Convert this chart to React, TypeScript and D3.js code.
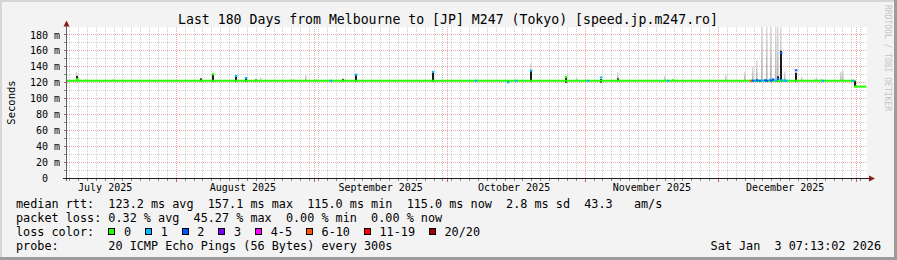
import React from "react";
import * as d3 from "d3";

const W = 897;
const H = 260;
const TITLE = "Last 180 Days from Melbourne to [JP] M247 (Tokyo) [speed.jp.m247.ro]";
const START = "2025-07-07 07:13:02";
const END = "2026-01-03 07:13:02";
const Y_MAX = 190;

const yTickValues = [0, 20, 40, 60, 80, 100, 120, 140, 160, 180];
const yTickLabels = ["0", "20 m", "40 m", "60 m", "80 m", "100 m", "120 m", "140 m", "160 m", "180 m"];

// median baseline segments (start time, median ms)
const medianStart = ["2025-07-07 07:13", "2025-12-31 18:00"];
const medianValue = [122.4, 115.0];

// notable samples: time, median (ms), loss colour index, dark smoke lo/hi, light smoke top (0 = none)
const evTime = [
  "2025-07-09 18:30", "2025-07-11 19:00", "2025-07-17 21:00", "2025-08-06 16:00", "2025-08-09 09:00",
  "2025-08-14 08:00", "2025-08-16 19:00", "2025-08-18 20:00", "2025-08-19 23:00", "2025-08-26 17:00",
  "2025-08-27 14:00", "2025-08-30 07:00", "2025-09-01 13:00", "2025-09-04 22:00", "2025-09-07 10:00",
  "2025-09-10 08:00", "2025-09-27 21:00", "2025-10-07 08:00", "2025-10-14 18:00", "2025-10-16 13:00",
  "2025-10-19 17:00", "2025-10-27 19:00", "2025-10-30 06:30", "2025-11-01 18:00", "2025-11-04 16:00",
  "2025-11-08 12:00", "2025-11-18 20:30", "2025-11-19 18:00", "2025-11-20 21:00", "2025-12-02 19:00",
  "2025-12-06 20:30", "2025-12-08 10:00", "2025-12-08 21:00", "2025-12-09 08:00", "2025-12-09 18:30",
  "2025-12-10 05:30", "2025-12-10 21:30", "2025-12-11 08:30", "2025-12-12 00:30", "2025-12-12 11:30",
  "2025-12-12 22:00", "2025-12-13 09:00", "2025-12-14 01:00", "2025-12-14 12:00", "2025-12-14 23:00",
  "2025-12-15 09:30", "2025-12-15 20:30", "2025-12-16 07:00", "2025-12-18 08:00", "2025-12-19 21:30",
  "2025-12-22 14:30", "2025-12-23 06:30", "2025-12-24 04:00", "2025-12-24 15:00", "2025-12-28 16:00",
  "2025-12-29 03:00", "2025-12-31 09:00", "2025-12-31 18:00",
];
const evMedian = [
  124.5, 124.0, 124.0, 122.4, 130.5,
  128.5, 126.0, 122.4, 122.4, 124.0,
  122.4, 122.4, 124.0, 122.4, 122.4,
  130.0, 133.5, 122.4, 120.5, 122.4,
  135.0, 127.0, 122.4, 122.4, 126.5,
  122.4, 122.4, 122.4, 124.7, 122.4,
  122.4, 122.4, 122.4, 122.4, 123.0,
  122.4, 122.4, 123.0, 122.4, 123.5,
  122.4, 124.0, 122.4, 125.0, 157.1,
  123.0, 122.4, 122.4, 135.5, 122.4,
  122.4, 122.4, 122.4, 122.4, 122.4,
  122.4, 122.4, 115.0,
];
const evLoss = [
  0, 0, 0, 0, 0,
  1, 1, 0, 0, 0,
  0, 0, 0, 1, 0,
  1, 1, 1, 1, 1,
  1, 0, 0, 1, 1,
  0, 0, 1, 0, 0,
  0, 5, 2, 1, 2,
  2, 1, 2, 2, 1,
  2, 2, 1, 2, 2,
  1, 1, 1, 2, 0,
  0, 0, 0, 1, 0,
  0, 1, 0,
];
const evDarkLo = [
  121.5, 0, 0, 121.0, 121.0,
  121.0, 121.0, 121.0, 0, 0,
  0, 0, 0, 0, 121.0,
  121.0, 121.0, 0, 119.5, 0,
  121.0, 119.8, 0, 0, 120.0,
  121.0, 0, 0, 0, 0,
  0, 0, 0, 0, 0,
  0, 0, 0, 0, 0,
  0, 0, 0, 121.0, 121.0,
  0, 0, 0, 121.0, 0,
  0, 0, 0, 0, 0,
  0, 0, 114.5,
];
const evDarkHi = [
  128.3, 0, 0, 125.4, 129.5,
  127.5, 125.5, 124.0, 0, 0,
  0, 0, 0, 0, 124.5,
  129.5, 132.5, 0, 123.0, 0,
  135.0, 126.0, 0, 0, 124.5,
  125.4, 0, 0, 0, 0,
  0, 0, 0, 0, 0,
  0, 0, 0, 0, 0,
  0, 0, 0, 128.0, 160.0,
  0, 0, 0, 132.5, 0,
  0, 0, 0, 0, 0,
  0, 0, 122.4,
];
const evLightHi = [
  133.4, 0, 0, 0, 0,
  0, 0, 0, 126.2, 0,
  125.0, 130.5, 0, 0, 126.0,
  0, 0, 0, 0, 0,
  144.3, 0, 126.7, 0, 0,
  133.4, 128.7, 0, 0, 129.6,
  133.8, 0, 140.0, 0, 148.5,
  0, 200, 0, 200, 0,
  200, 0, 200, 200, 200,
  0, 133.8, 0, 0, 127.5,
  125.0, 126.0, 125.0, 0, 133.8,
  137.0, 0, 0,
];

const lossLabels = ["0", "1", "2", "3", "4-5", "6-10", "11-19", "20/20"];
const lossColors = ["#26ff00", "#00b8ff", "#0059ff", "#7e00ff", "#ff00ff", "#ff5500", "#ff0000", "#a10000"];

const statRow1 = "median rtt:  123.2 ms avg  157.1 ms max  115.0 ms min  115.0 ms now  2.8 ms sd  43.3   am/s";
const statRow2 = "packet loss: 0.32 % avg  45.27 % max  0.00 % min  0.00 % now";
const lossTitle = "loss color:";
const probeRow = "probe:       20 ICMP Echo Pings (56 Bytes) every 300s";
const dateText = "Sat Jan  3 07:13:02 2026";
const yAxisTitle = "Seconds";
const watermark = "RRDTOOL / TOBI OETIKER";

const MONO = "'DejaVu Sans Mono', monospace";

export default function App() {
  const parseFull = d3.utcParse("%Y-%m-%d %H:%M:%S");
  const parse = d3.utcParse("%Y-%m-%d %H:%M");
  const t0 = parseFull(START) as Date;
  const t1 = parseFull(END) as Date;

  const x = d3.scaleUtc().domain([t0, t1]).range([66.5, 866.5]);
  const y = d3.scaleLinear().domain([0, Y_MAX]).range([178, 27]);

  const plotL = 67, plotR = 867, plotT = 27, plotB = 178;

  const minorY = d3.range(10, Y_MAX, 10).filter((v) => v % 20 !== 0);
  const majorY = yTickValues.filter((v) => v > 0);
  const months = d3.utcMonth.range(t0, t1);
  const days = d3.utcDay.range(t0, t1, 2).filter((d) => d.getUTCDate() !== 1);
  const labelMonths = d3.utcMonth.range(d3.utcMonth.floor(t0), t1)
    .map((m) => ({ m, c: new Date(m.getTime() + 15 * 86400000) }))
    .filter((o) => o.c >= t0 && o.c <= t1);
  const monthFmt = d3.utcFormat("%B %Y");

  const ev = evTime.map((t, i) => ({
    t: parse(t) as Date,
    med: evMedian[i],
    loss: evLoss[i],
    dLo: evDarkLo[i],
    dHi: evDarkHi[i],
    lHi: evLightHi[i],
  }));

  const segs = medianStart.map((s, i) => ({
    a: parse(s) as Date,
    b: i + 1 < medianStart.length ? (parse(medianStart[i + 1]) as Date) : t1,
    v: medianValue[i],
  }));
  const baseAt = (t: Date) => {
    const s = segs.find((g) => t >= g.a && t < g.b);
    return s ? s.v : medianValue[medianValue.length - 1];
  };

  const crisp = (v: number) => Math.round(v - 0.5) + 0.5;

  // legend positions
  let cursor = 124;
  const legendItems = lossLabels.map((lab, i) => {
    const tx = cursor;
    cursor += lab.length * 7.08 + 29.6;
    return { lab, color: lossColors[i], tx, bx: tx - 15.7 };
  });

  return (
    <svg
      width={W}
      height={H}
      style={{ position: "absolute", left: 0, top: 0, display: "block" }}
      fontFamily={MONO}
    >
      <defs>
        <clipPath id="plotClip">
          <rect x={plotL} y={plotT} width={plotR - plotL} height={plotB - plotT} />
        </clipPath>
        <linearGradient id="smokeGrad" x1="0" y1="1" x2="0" y2="0">
          <stop offset="0" stopColor="#a8a8a8" />
          <stop offset="1" stopColor="#dedede" />
        </linearGradient>
      </defs>
      {/* background + shading */}
      <rect x={0} y={0} width={W} height={H} fill="#f3f3f3" />
      <rect x={0} y={0} width={W} height={2} fill="#d6d6d6" />
      <rect x={0} y={0} width={2} height={H} fill="#d6d6d6" />
      <rect x={0} y={H - 3} width={W} height={3} fill="#9c9c9c" />
      <rect x={W - 3} y={0} width={3} height={H} fill="#9c9c9c" />

      {/* canvas */}
      <rect x={plotL} y={plotT} width={plotR - plotL} height={plotB - plotT} fill="#ffffff" />

      {/* grid */}
      <g shapeRendering="crispEdges">
        {minorY.map((v) => (
          <line key={"my" + v} x1={plotL} x2={plotR} y1={crisp(y(v))} y2={crisp(y(v))}
            stroke="#cfcfcf" strokeDasharray="1 1" />
        ))}
        {days.map((d) => (
          <line key={"dx" + d.getTime()} x1={crisp(x(d))} x2={crisp(x(d))} y1={plotT} y2={plotB}
            stroke="#cfcfcf" strokeDasharray="1 1" />
        ))}
        {majorY.map((v) => (
          <line key={"My" + v} x1={plotL} x2={plotR} y1={crisp(y(v))} y2={crisp(y(v))}
            stroke="#eba7a7" strokeDasharray="1 1" />
        ))}
        {months.map((m) => (
          <line key={"Mx" + m.getTime()} x1={crisp(x(m))} x2={crisp(x(m))} y1={plotT} y2={plotB}
            stroke="#eba7a7" strokeDasharray="1 1" />
        ))}
      </g>

      {/* data */}
      <g clipPath="url(#plotClip)">
        {ev.filter((e) => e.lHi > 0).map((e, i) => {
          const base = baseAt(e.t);
          const top = y(Math.min(e.lHi, Y_MAX + 5));
          return (
            <rect key={"l" + i} x={Math.round(x(e.t)) - 1} width={1.6} y={top}
              height={y(base) - top} fill="url(#smokeGrad)" opacity={0.9} />
          );
        })}
        {ev.filter((e) => e.dHi > 0).map((e, i) => (
          <rect key={"d" + i} x={Math.round(x(e.t)) - 1} width={2} y={y(e.dHi)}
            height={y(e.dLo) - y(e.dHi)} fill="#1c1c1c" />
        ))}
        {segs.map((s, i) => (
          <line key={"s" + i} x1={x(s.a)} x2={x(s.b)} y1={y(s.v)} y2={y(s.v)}
            stroke={lossColors[0]} strokeWidth={2} />
        ))}
        {ev.map((e, i) => {
          const base = baseAt(e.t);
          const xc = Math.round(x(e.t));
          const col = lossColors[e.loss];
          const hasDark = e.dHi > 0;
          return (
            <g key={"m" + i}>
              {!hasDark && Math.abs(e.med - base) > 0.3 && (
                <line x1={xc} x2={xc} y1={y(base)} y2={y(e.med)} stroke={col} strokeWidth={1.5} />
              )}
              {(e.loss > 0 || hasDark) && (
                <rect x={xc - 1.2} width={2.6} y={y(e.med) - 1} height={2} fill={col} />
              )}
            </g>
          );
        })}
      </g>

      {/* axes */}
      <g shapeRendering="crispEdges">
        {minorY.concat(majorY).map((v) => (
          <line key={"yt" + v} x1={64} x2={66} y1={crisp(y(v))} y2={crisp(y(v))}
            stroke={v % 20 === 0 ? "#c06060" : "#888"} />
        ))}
        {days.map((d) => (
          <line key={"xt" + d.getTime()} x1={crisp(x(d))} x2={crisp(x(d))} y1={179} y2={181} stroke="#888" />
        ))}
        {months.map((m) => (
          <line key={"xM" + m.getTime()} x1={crisp(x(m))} x2={crisp(x(m))} y1={179} y2={182} stroke="#c06060" />
        ))}
        <line x1={66.5} x2={66.5} y1={181} y2={24} stroke="#606060" />
        <line x1={63} x2={870} y1={178.5} y2={178.5} stroke="#202020" />
      </g>
      <polygon points="63.5,26.5 69.5,26.5 66.5,20.5" fill="#8b1a1a" />
      <polygon points="869,175.5 869,181.5 875,178.5" fill="#8b1a1a" />

      {/* y labels */}
      {yTickValues.map((v, i) => (
        <text key={"yl" + v} x={v === 0 ? 48 : 60} y={y(v) + 3.6} fontSize={10} textAnchor="end" fill="#000">
          {yTickLabels[i]}
        </text>
      ))}
      {/* x labels */}
      {labelMonths.map((o) => (
        <text key={"xl" + o.m.getTime()} x={x(o.c)} y={191} fontSize={10} textAnchor="middle" fill="#000">
          {monthFmt(o.m)}
        </text>
      ))}

      {/* titles */}
      <text x={448} y={23.5} fontSize={13.2} textAnchor="middle" fill="#000">{TITLE}</text>
      <text transform={`translate(15,${(plotT + plotB) / 2}) rotate(-90)`} fontSize={10.5}
        textAnchor="middle" fill="#000">{yAxisTitle}</text>
      <text transform="translate(885,5) rotate(90)" fontSize={8} fill="#c4c4c4">{watermark}</text>

      {/* legend */}
      <g fontSize={11.8} fill="#000" style={{ whiteSpace: "pre" }}>
        <text x={16} y={208} xmlSpace="preserve">{statRow1}</text>
        <text x={16} y={222} xmlSpace="preserve">{statRow2}</text>
        <text x={16} y={236}>{lossTitle}</text>
        {legendItems.map((it) => (
          <g key={"lg" + it.lab}>
            <rect x={Math.round(it.bx) + 0.5} y={228.5} width={6} height={6} fill={it.color}
              stroke="#000" strokeWidth={1} shapeRendering="crispEdges" />
            <text x={it.tx} y={236}>{it.lab}</text>
          </g>
        ))}
        <text x={16} y={250} xmlSpace="preserve">{probeRow}</text>
        <text x={881} y={250} textAnchor="end" xmlSpace="preserve">{dateText}</text>
      </g>
    </svg>
  );
}
